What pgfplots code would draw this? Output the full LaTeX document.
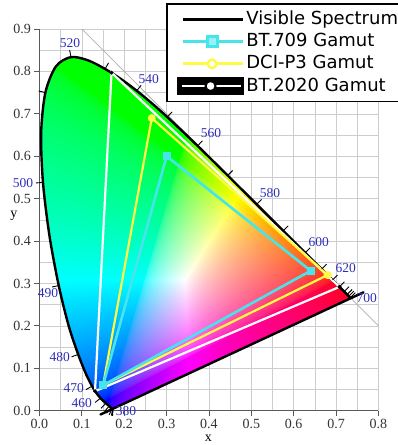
\documentclass[border=0pt]{standalone}
\usepackage{fontspec}
\setmainfont{Liberation Serif}
\newfontfamily\legfont{DejaVu Sans}
\usepackage{pgfplots}
\usepackage{pgfplotstable}
\pgfplotsset{compat=1.18}

\definecolor{gamutcyan}{RGB}{70,228,235}
\definecolor{gamutyellow}{RGB}{255,250,70}
\definecolor{wlblue}{RGB}{45,45,185}
\definecolor{gridgray}{RGB}{205,205,205}
\definecolor{diaggray}{RGB}{175,175,175}

% short outward tick on the spectral locus
\pgfdeclareplotmark{wltick}{%
  \pgfpathmoveto{\pgfpointorigin}%
  \pgfpathlineto{\pgfqpoint{\pgfplotmarksize}{0pt}}%
  \pgfusepathqstroke}

% chromaticity colours: the shading box [-25bp,25bp]^2 is stretched onto the
% bounding box of the locus (x 0.0039..0.7347, y 0.0048..0.8338);
% xy -> XYZ (Y=1) -> linear sRGB, negatives clipped, scaled to max 1, gamma 2.2
\pgfdeclarefunctionalshading{cie}{\pgfpoint{-50bp}{-50bp}}{\pgfpoint{50bp}{50bp}}{}{
 25 add 0.01658 mul 0.0048 add
 dup 0.001 lt {pop 0.001} if
 exch 25 add 0.014616 mul 0.0039 add
 1 index div
 exch 1 exch div
 1 index sub 1 sub
 1 index 3.2406 mul 1 index 0.4986 mul sub 1.5372 sub
 2 index -0.9689 mul 2 index 0.0415 mul add 1.8758 add
 3 index 0.0557 mul 3 index 1.0570 mul add 0.2040 sub
 5 3 roll pop pop
 dup 0 lt {pop 0} if 3 1 roll
 dup 0 lt {pop 0} if 3 1 roll
 dup 0 lt {pop 0} if 3 1 roll
 3 copy 2 copy lt {exch} if pop 2 copy lt {exch} if pop
 dup 0.0001 lt {pop 0.0001} if
 4 1 roll
 3 index div 3 1 roll
 3 index div 3 1 roll
 3 index div 3 1 roll
 4 -1 roll pop
 0.4545 exp 3 1 roll 0.4545 exp 3 1 roll 0.4545 exp 3 1 roll
}

% CIE 1931 spectral locus, 380--700 nm, closed by the line of purples
% (two extra points on the line of purples keep its ends straight when smoothed)
\pgfplotstableread{
x y
0.1741 0.0050
0.1738 0.0049
0.1733 0.0048
0.1726 0.0048
0.1714 0.0051
0.1689 0.0069
0.1644 0.0109
0.1566 0.0177
0.1510 0.0227
0.1440 0.0297
0.1355 0.0399
0.1241 0.0578
0.1096 0.0868
0.0913 0.1327
0.0687 0.2007
0.0454 0.2950
0.0235 0.4127
0.0082 0.5384
0.0039 0.6548
0.0139 0.7502
0.0389 0.8120
0.0743 0.8338
0.1142 0.8262
0.1547 0.8059
0.1929 0.7816
0.2296 0.7543
0.2658 0.7243
0.3016 0.6923
0.3373 0.6589
0.3731 0.6245
0.4087 0.5896
0.4441 0.5547
0.4788 0.5202
0.5125 0.4866
0.5448 0.4544
0.5752 0.4242
0.6029 0.3965
0.6270 0.3725
0.6482 0.3514
0.6658 0.3340
0.6801 0.3197
0.6915 0.3083
0.7006 0.2993
0.7079 0.2920
0.7140 0.2859
0.7190 0.2809
0.7260 0.2740
0.7300 0.2700
0.7334 0.2666
0.7347 0.2653
0.7291 0.2627
0.1797 0.0076
0.1741 0.0050
}\locus

% wavelength ticks: position and outward direction (degrees)
\pgfplotstableread{
x y a
0.1738 0.0049 265
0.1733 0.0048 270
0.1726 0.0048 260
0.1714 0.0051 245
0.1689 0.0069 230
0.1644 0.0109 229
0.1566 0.0177 227
0.1440 0.0297 219
0.1241 0.0578 209
0.0913 0.1327 200
0.0454 0.2950 192
0.0082 0.5384 185
0.0139 0.7502 167
0.0743 0.8338 101
0.1547 0.8059 60
0.2296 0.7543 52
0.3016 0.6923 48
0.3731 0.6245 46
0.4441 0.5547 45
0.5125 0.4866 45
0.5752 0.4242 45
0.6270 0.3725 45
0.6658 0.3340 45
0.6915 0.3083 45
0.7079 0.2920 45
0.7190 0.2809 45
0.7260 0.2740 45
0.7300 0.2700 45
0.7334 0.2666 45
}\wlticks

\pgfplotsset{
  specimg/.style={legend image code/.code={%
    \draw[black,line width=2.6pt] (0pt,0pt) -- (60pt,0pt);}},
  recimg/.style={legend image code/.code={%
    \draw[gamutcyan,line width=3pt] (0pt,0pt) -- (60pt,0pt);
    \fill[gamutcyan] (24.5pt,-5.5pt) rectangle (35.5pt,5.5pt);
    \fill[gamutcyan!55!white] (27.5pt,-2.5pt) rectangle (32.5pt,2.5pt);}},
  dciimg/.style={legend image code/.code={%
    \draw[gamutyellow,line width=3pt] (0pt,0pt) -- (60pt,0pt);
    \filldraw[fill=white,draw=gamutyellow,line width=2.5pt] (29.5pt,0pt) circle (4.3pt);}},
  bt2020img/.style={legend image code/.code={%
    \fill[black] (-5pt,-8.5pt) rectangle (61pt,8.5pt);
    \draw[white,line width=2.6pt] (-1pt,0pt) -- (58pt,0pt);
    \filldraw[fill=white,draw=black,line width=2pt] (28pt,0pt) circle (5pt);}},
}
\tikzset{wl/.style={text=wlblue,font=\fontsize{13.5}{15}\selectfont,inner sep=0pt}}

\begin{document}
\begin{tikzpicture}
\begin{axis}[
  at={(0pt,0pt)}, anchor=south west,
  scale only axis, width=339pt, height=381.7pt,
  xmin=0, xmax=0.8, ymin=0, ymax=0.9,
  clip=false,
  axis lines=left,
  axis line style={-,black!65,line width=0.8pt},
  xtick={0,0.1,0.2,0.3,0.4,0.5,0.6,0.7,0.8},
  ytick={0,0.1,0.2,0.3,0.4,0.5,0.6,0.7,0.8,0.9},
  minor tick num=1, minor tick length=0pt,
  tick align=outside, major tick length=5pt,
  tick style={black!65,line width=0.8pt},
  grid=both,
  grid style={gridgray,line width=0.6pt},
  major grid style={gridgray,line width=0.6pt},
  minor grid style={gridgray,line width=0.6pt},
  xticklabel={\pgfmathprintnumber[fixed,fixed zerofill,precision=1,assume math mode=true]{\tick}},
  yticklabel={\pgfmathprintnumber[fixed,fixed zerofill,precision=1,assume math mode=true]{\tick}},
  ticklabel style={font=\fontsize{14}{16}\selectfont,text=black!80},
  xlabel={x}, ylabel={y},
  every axis x label/.style={at={(rel axis cs:0.4985,0)},anchor=center,yshift=-27.3pt,inner sep=0pt,font=\fontsize{14}{16}\selectfont},
  every axis y label/.style={at={(rel axis cs:0,0.511)},anchor=center,xshift=-25.5pt,inner sep=0pt,font=\fontsize{14}{16}\selectfont},
  legend cell align=left,
  legend style={at={(0.373,1.068)},anchor=north west,
    draw=black,line width=1.6pt,fill=white,
    inner xsep=10pt,inner ysep=4.5pt,row sep=0pt,
    font=\legfont\fontsize{18}{21}\selectfont,
    nodes={inner sep=2pt,text height=14.2pt,text depth=4pt}},
]
% line x + y = 1
\addplot[diaggray,line width=0.8pt,forget plot] coordinates {(0.1,0.9) (0.8,0.2)};

% spectral locus: coloured fill and outline
\addplot[draw=black,line width=2.4pt,line join=round,smooth,tension=0.5,
  shading=cie,forget plot]
  table[x=x,y=y] {\locus};

% wavelength ticks
\addplot[only marks,mark=wltick,mark size=7pt,black,line width=0.9pt,forget plot,
  visualization depends on={\thisrow{a}\as\ang},
  every mark/.append style={rotate=\ang}] table[x=x,y=y] {\wlticks};

% BT.2020 primaries
\addplot[white,line width=2.2pt,mark=*,mark size=1.7pt,
  mark options={fill=black,draw=black,line width=0.5pt},forget plot]
  coordinates {(0.708,0.292) (0.170,0.797) (0.131,0.046) (0.708,0.292)};
% DCI-P3 primaries
\addplot[gamutyellow,line width=2.2pt,mark=*,mark size=2.8pt,
  mark options={fill=gamutyellow,draw=gamutyellow},forget plot]
  coordinates {(0.680,0.320) (0.265,0.690) (0.150,0.060) (0.680,0.320)};
% BT.709 primaries
\addplot[gamutcyan,line width=2.6pt,mark=square*,mark size=2.8pt,
  mark options={fill=gamutcyan,draw=gamutcyan},forget plot]
  coordinates {(0.640,0.330) (0.300,0.600) (0.150,0.060) (0.640,0.330)};

% wavelength labels (nm)
\node[wl] at (axis cs:0.072,0.867) {520};
\node[wl] at (axis cs:0.258,0.783) {540};
\node[wl] at (axis cs:0.4045,0.655) {560};
\node[wl] at (axis cs:0.544,0.513) {580};
\node[wl] at (axis cs:0.659,0.398) {600};
\node[wl] at (axis cs:0.723,0.336) {620};
\node[wl] at (axis cs:0.772,0.266) {700};
\node[wl] at (axis cs:-0.039,0.537) {500};
\node[wl] at (axis cs:0.020,0.278) {490};
\node[wl] at (axis cs:0.048,0.127) {480};
\node[wl] at (axis cs:0.081,0.054) {470};
\node[wl] at (axis cs:0.100,0.018) {460};
\node[wl] at (axis cs:0.204,-0.001) {380};

\addlegendimage{specimg}\addlegendentry{Visible Spectrum}
\addlegendimage{recimg}\addlegendentry{BT.709 Gamut}
\addlegendimage{dciimg}\addlegendentry{DCI-P3 Gamut}
\addlegendimage{bt2020img}\addlegendentry{BT.2020 Gamut}
\end{axis}
\pgfresetboundingbox
\useasboundingbox (-39.5pt,-34.3pt) rectangle (357.5pt,410.7pt);
\end{tikzpicture}
\end{document}
